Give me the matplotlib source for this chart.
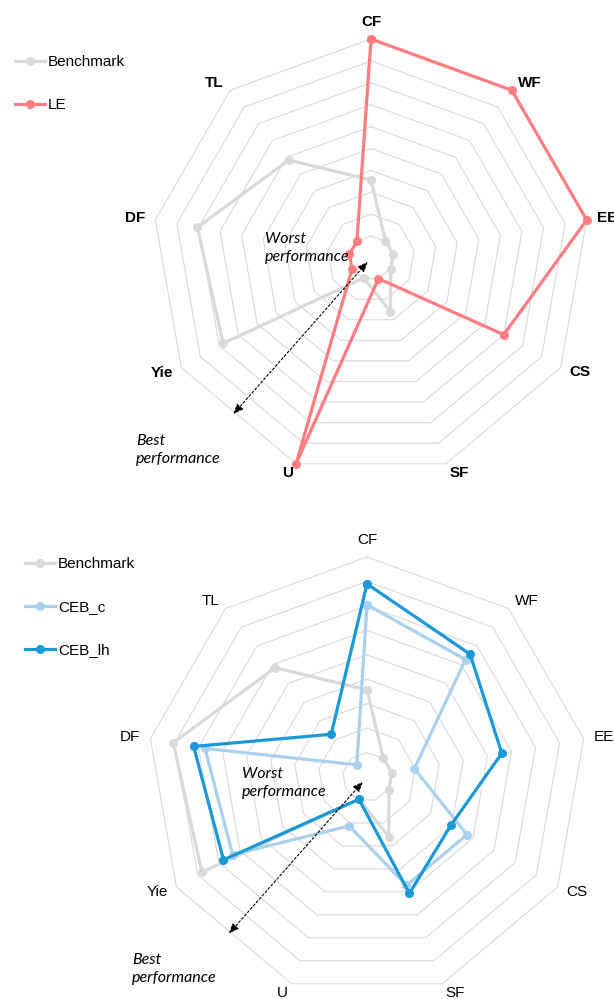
import numpy as np
import matplotlib
matplotlib.use('Agg')
import matplotlib.pyplot as plt

plt.rcParams['font.family'] = ['Liberation Sans', 'DejaVu Sans']

# Data (ring units: centre = 0, each grid ring = 1)
categories = ['CF', 'WF', 'EE', 'CS', 'SF', 'U', 'Yie', 'DF', 'TL']
benchmark = [3.56, 1.03, 1.03, 1.04, 2.6, 0.97, 7.8, 8.05, 5.84]
le = [10, 10, 10, 7.0, 1.0, 10, 1.0, 1.0, 1.0]
ceb_c = [7.04, 6.27, 1.97, 4.72, 4.72, 2.13, 6.35, 6.73, 0.65]
ceb_lh = [7.9, 6.56, 5.6, 3.96, 5.07, 0.97, 6.78, 7.2, 2.28]

GRAY = '#d9d9d9'
RED = '#ff7c80'
LIGHT = '#a9d1ee'
DARK = '#1b98d6'

W, H = 614, 999
fig = plt.figure(figsize=(W / 100, H / 100), dpi=100)


def px(x, y):
    # top-left pixel -> figure fraction
    return x / W, 1 - y / H


theta = np.arange(len(categories)) * 2 * np.pi / len(categories)
closed = np.append(theta, theta[0])


def radar(rect, rmax, series, bold):
    ax = fig.add_axes(rect, projection='polar')
    ax.set_theta_zero_location('N')
    ax.set_theta_direction(-1)
    ax.set_ylim(0, rmax)
    ax.set_xticks([])
    ax.set_yticks([])
    ax.grid(False)
    ax.spines['polar'].set_visible(False)
    ax.patch.set_visible(False)
    for k in range(1, rmax + 1):
        ax.plot(closed, [k] * len(closed), color=GRAY, lw=0.8, zorder=1,
                clip_on=False)
    for vals, color, name in series:
        v = np.append(vals, vals[0])
        ax.plot(closed, v, color=color, lw=2.3, marker='o', ms=5.5,
                label=name, zorder=3, clip_on=False)
    # category labels just outside the outer ring
    pxu = rect[2] * W / 2 / rmax
    rl = rmax + 10 / pxu
    for t, lab in zip(theta, categories):
        deg = np.degrees(t)
        if np.isclose(deg, 0):
            ha, va = 'center', 'bottom'
        elif deg < 180:
            ha, va = 'left', 'center'
        else:
            ha, va = 'right', 'center'
        ax.text(t, rl, lab, ha=ha, va=va, fontsize=11,
                fontweight='bold' if bold else 'normal')
    return ax


top = radar([152 / W, 1 - 477 / H, 438 / W, 438 / H], 10,
            [(benchmark, GRAY, 'Benchmark'), (le, RED, 'LE')], True)
bot = radar([147 / W, 1 - 997 / H, 440 / W, 440 / H], 9,
            [(benchmark, GRAY, 'Benchmark'), (ceb_c, LIGHT, 'CEB_c'),
             (ceb_lh, DARK, 'CEB_lh')], False)

for ax, x0, y0 in [(top, 15, 55), (bot, 25, 557)]:
    ax.legend(loc='upper left', bbox_to_anchor=px(x0, y0),
              bbox_transform=fig.transFigure, frameon=False, fontsize=11,
              borderpad=0, borderaxespad=0, handlelength=1.95,
              handletextpad=0.2, labelspacing=1.9)

# worst / best performance arrows
arrow = dict(arrowstyle='<|-|>,head_length=0.6,head_width=0.25',
             color='black', lw=0.8, linestyle=(0, (2, 2)),
             shrinkA=0, shrinkB=0)
ang = np.radians(221.4)
top.annotate('', xy=(ang, 0.23), xytext=(ang, 9.5), arrowprops=arrow)
bot.annotate('', xy=(ang, 0.26), xytext=(ang, 8.54), arrowprops=arrow)

ital = dict(fontsize=11.5, style='italic', family=['Lato', 'DejaVu Sans'],
            ha='left', va='center', linespacing=1.45)
fig.text(*px(265, 248), 'Worst\nperformance', **ital)
fig.text(*px(242, 783), 'Worst\nperformance', **ital)
fig.text(*px(136, 450), 'Best\nperformance', **ital)
fig.text(*px(132, 969), 'Best\nperformance', **ital)

fig.savefig('out.png', dpi=100)
